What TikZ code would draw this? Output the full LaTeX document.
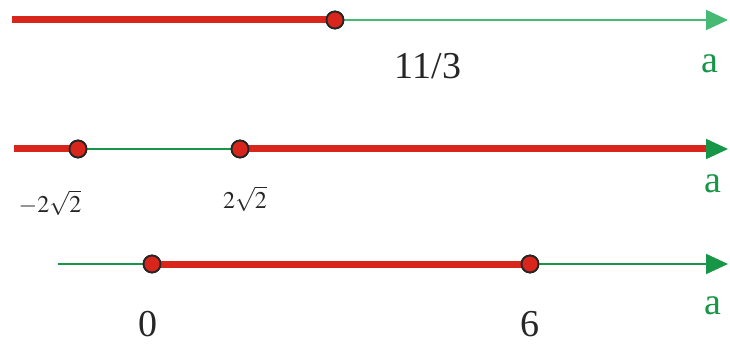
\documentclass[tikz,border=0pt]{standalone}
\usepackage{mathptmx}
\usepackage{fontspec}
\setmainfont{Liberation Serif}
\usetikzlibrary{arrows.meta}
\definecolor{myred}{RGB}{217,38,28}
\definecolor{mygreen}{RGB}{22,150,70}
\definecolor{lightgreen}{RGB}{70,185,115}
\begin{document}
\begin{tikzpicture}[x=1pt,y=-1pt,
  axis/.style={draw=mygreen,line width=2pt,-{Triangle[length=22pt,width=20pt]}},
  ray/.style={draw=myred,line width=7pt},
  pt/.style={circle,fill=myred,draw=black!85,line width=1.8pt,minimum size=17pt,inner sep=0pt},
  lab/.style={font=\fontsize{38}{40}\selectfont,text=black!85},
  slab/.style={font=\fontsize{24}{26}\selectfont,text=black!85},
  alab/.style={font=\fontsize{38}{40}\selectfont,text=mygreen}]
\useasboundingbox (0,0) rectangle (730,347);
% line 1
\coordinate (s1) at (12,20);
\coordinate (e1) at (728,20);
\node[pt] (p1) at (335,20) {};
\draw[axis,draw=lightgreen] (p1.center) -- (e1);
\draw[ray] (s1) -- (p1.center);
\node[pt] at (p1) {};
\node[lab] (l1) at (428,66) {11/3};
\node[alab] (a1) at (710,64) {a};
% line 2
\coordinate (s2) at (14,149);
\coordinate (e2) at (728,149);
\coordinate (r2) at (706,149);
\node[pt] (p2a) at (78,149) {};
\node[pt] (p2b) at (240,149) {};
\draw[axis] (s2) -- (e2);
\draw[ray] (s2) -- (p2a.center);
\draw[ray] (p2b.center) -- (r2);
\node[pt] at (p2a) {};
\node[pt] at (p2b) {};
\node[slab] (l2a) at (50,203) {$-2\sqrt{2}$};
\node[slab] (l2b) at (245,199) {$2\sqrt{2}$};
\node[alab] (a2) at (713,184) {a};
% line 3
\coordinate (s3) at (58,264);
\coordinate (e3) at (728,264);
\node[pt] (p3a) at (152,264) {};
\node[pt] (p3b) at (530,264) {};
\draw[axis] (s3) -- (e3);
\draw[ray] (p3a.center) -- (p3b.center);
\node[pt] at (p3a) {};
\node[pt] at (p3b) {};
\node[lab] (l3a) at (148,324) {0};
\node[lab] (l3b) at (530,324) {6};
\node[alab] (a3) at (713,306) {a};
\end{tikzpicture}
\end{document}
